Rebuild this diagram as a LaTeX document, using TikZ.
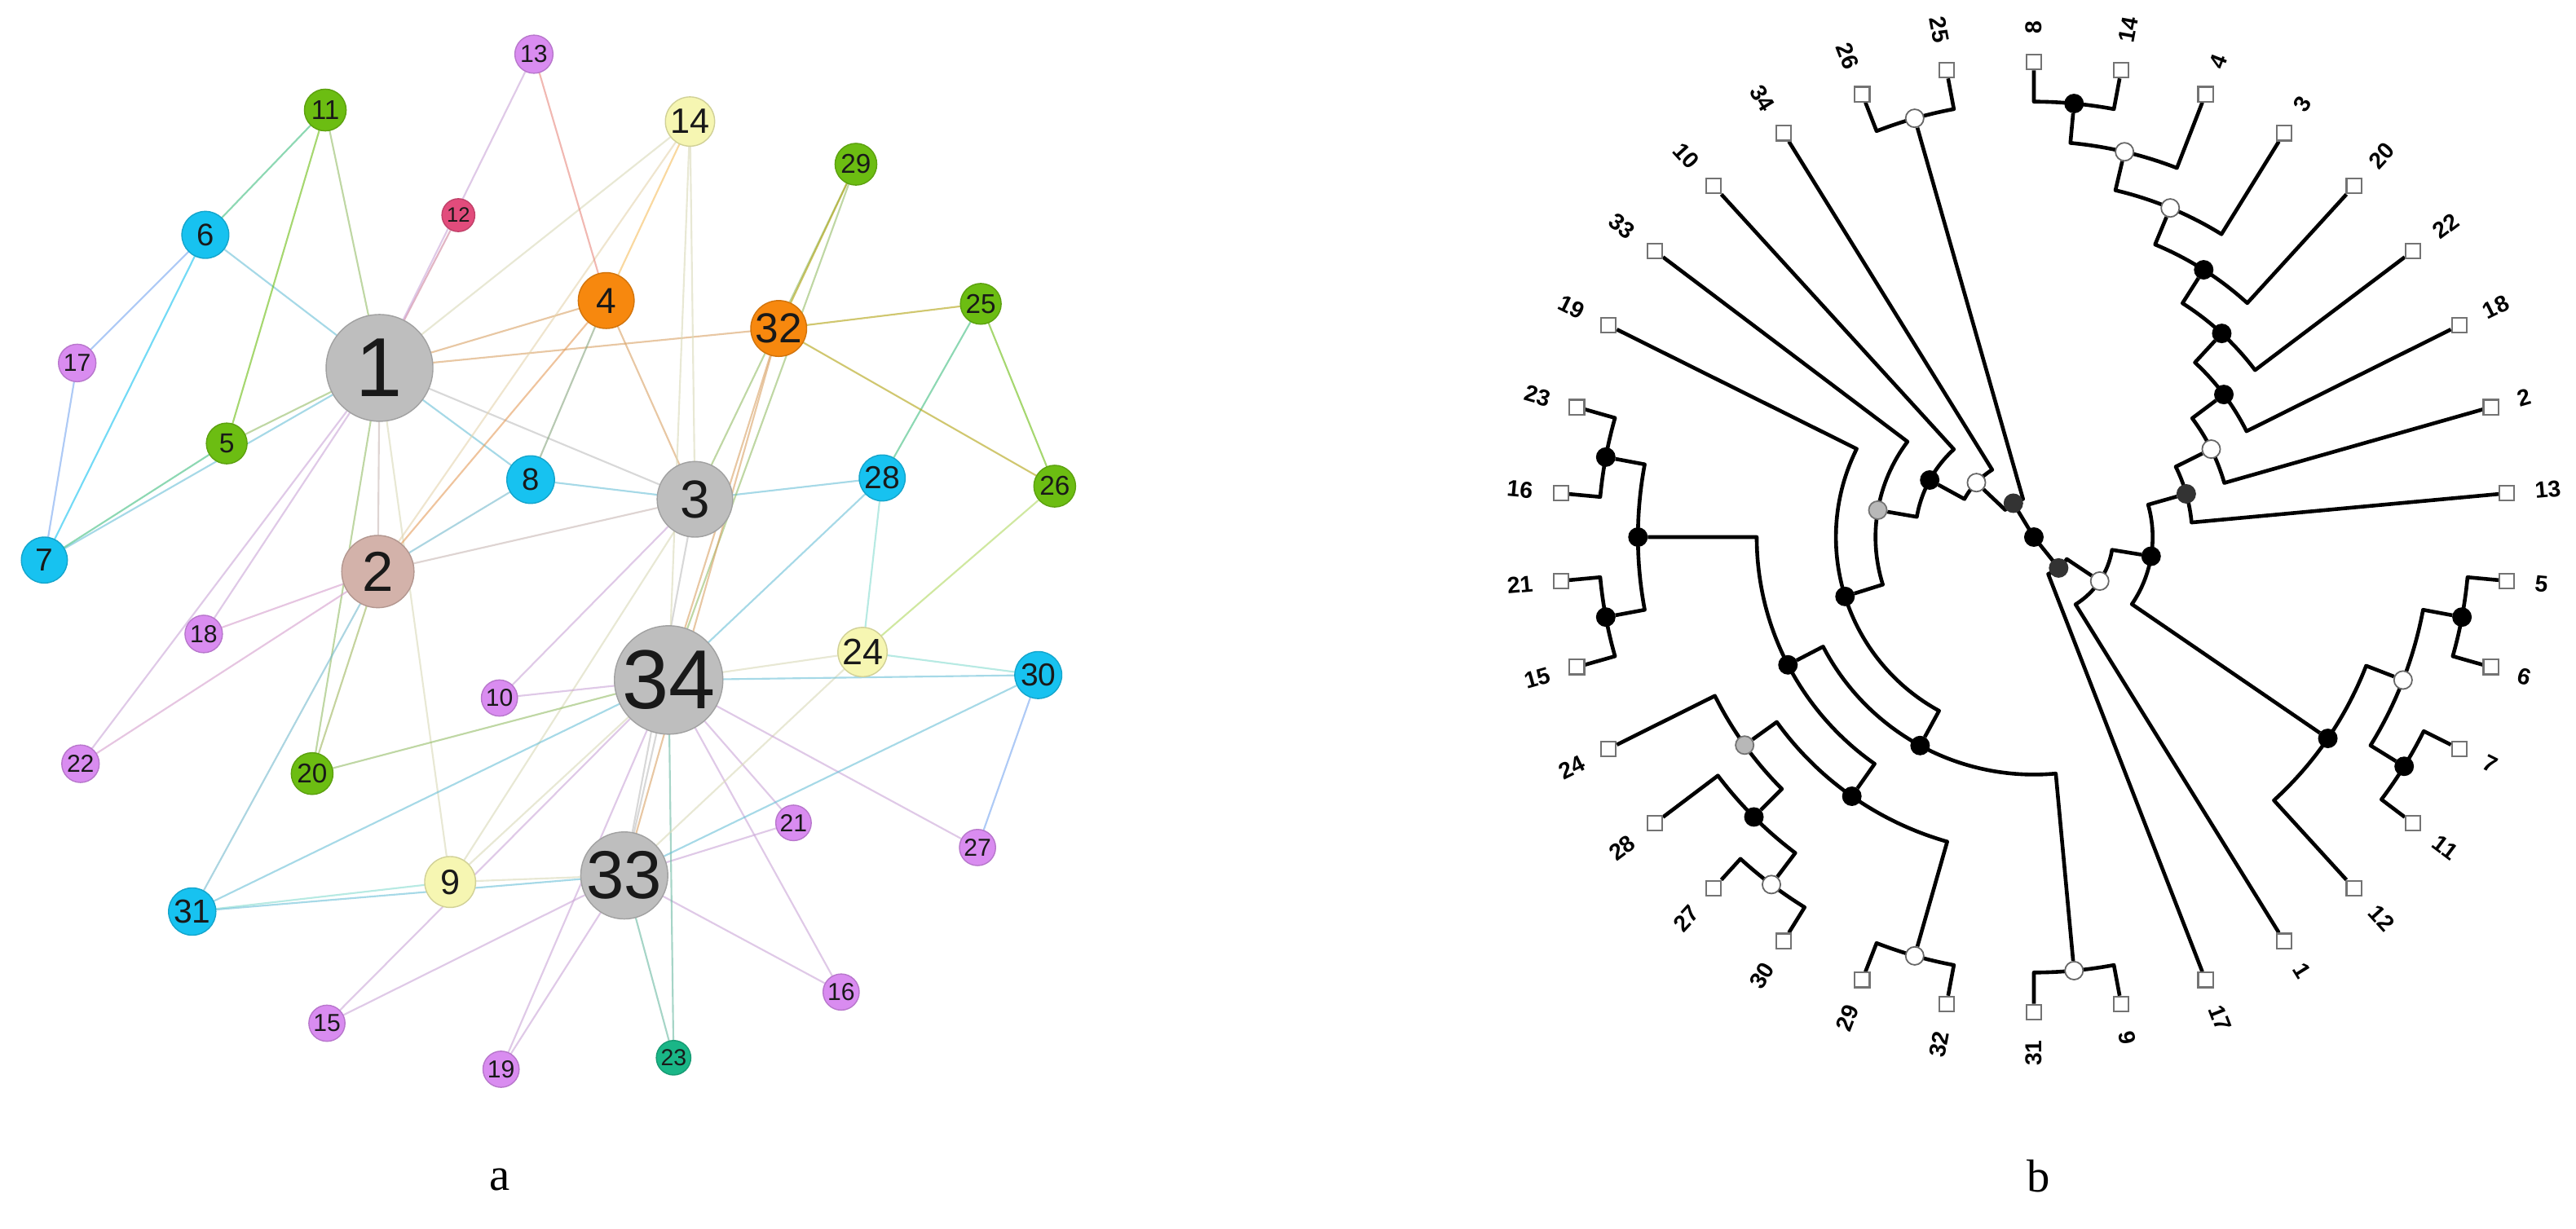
\documentclass[tikz,border=0pt]{standalone}
\usepackage{fontspec}
\setmainfont{Liberation Serif}
\newfontfamily\gfont{Liberation Sans}
\pgfdeclarelayer{paper}
\pgfdeclarelayer{edges}
\pgfsetlayers{paper,edges,main}
\definecolor{ngray}{HTML}{BEBEBE}
\definecolor{nrose}{HTML}{D3B2AA}
\definecolor{norange}{HTML}{F7880E}
\definecolor{ngreen}{HTML}{6CBD12}
\definecolor{nblue}{HTML}{17C2F0}
\definecolor{nyellow}{HTML}{F6F6B2}
\definecolor{npurple}{HTML}{D98CF0}
\definecolor{npink}{HTML}{E24C7C}
\definecolor{nteal}{HTML}{1AB687}
\colorlet{c1}{ngray}\colorlet{c2}{nrose}\colorlet{c3}{ngray}\colorlet{c4}{norange}
\colorlet{c5}{ngreen}\colorlet{c6}{nblue}\colorlet{c7}{nblue}\colorlet{c8}{nblue}
\colorlet{c9}{nyellow}\colorlet{c10}{npurple}\colorlet{c11}{ngreen}\colorlet{c12}{npink}
\colorlet{c13}{npurple}\colorlet{c14}{nyellow}\colorlet{c15}{npurple}\colorlet{c16}{npurple}
\colorlet{c17}{npurple}\colorlet{c18}{npurple}\colorlet{c19}{npurple}\colorlet{c20}{ngreen}
\colorlet{c21}{npurple}\colorlet{c22}{npurple}\colorlet{c23}{nteal}\colorlet{c24}{nyellow}
\colorlet{c25}{ngreen}\colorlet{c26}{ngreen}\colorlet{c27}{npurple}\colorlet{c28}{nblue}
\colorlet{c29}{ngreen}\colorlet{c30}{nblue}\colorlet{c31}{nblue}\colorlet{c32}{norange}
\colorlet{c33}{ngray}\colorlet{c34}{ngray}
\newcommand\zb[1]{\makebox[0pt]{#1}}
\newcommand\tedge[5]{\draw[br] (#1.center) arc[start angle=#2, end angle=#3, radius=#4] -- (#5);}
\begin{document}
\begin{tikzpicture}[x=0.2mm, y=0.2mm,
  gn/.style n args={3}{circle, inner sep=0pt, fill=#1, draw=#1!85!black, line width=0.4pt,
     minimum size=#2*0.4mm, font=\gfont\fontsize{#3}{#3}\selectfont, text=black!90},
  gedge/.style={line width=0.6pt, opacity=0.6},
  br/.style={line width=1.3pt, black, line join=round},
  leaf/.style={rectangle, draw=black!55, fill=white, line width=0.6pt, minimum size=1.8mm, inner sep=0pt},
  inode/.style={circle, minimum size=2.2mm, inner sep=0pt, line width=0.5pt},
  iblack/.style={inode, fill=black, draw=black},
  iwhite/.style={inode, fill=white, draw=black!60},
  igray/.style={inode, fill=black!28, draw=black!55},
  idark/.style={inode, fill=black!80, draw=black!80},
  lbl/.style={font=\gfont\bfseries\fontsize{8}{8}\selectfont, inner sep=0pt},
  captext/.style={font=\fontsize{16}{16}\selectfont, inner sep=0pt}]
\useasboundingbox (0,0) rectangle (1568,748);
\begin{pgfonlayer}{paper}
\fill[white] (0,0) rectangle (1568,748);
\end{pgfonlayer}

% ---------------- panel a: network ----------------
\node[gn={c1}{32.5}{29}] (n1) at (231,524) {\zb{1}};
\node[gn={c2}{22}{19.5}] (n2) at (230,400) {\zb{2}};
\node[gn={c3}{23}{18.5}] (n3) at (423,444) {\zb{3}};
\node[gn={c4}{17}{12.5}] (n4) at (369,565) {\zb{4}};
\node[gn={c5}{12.4}{9.5}] (n5) at (138,478) {\zb{5}};
\node[gn={c6}{14.3}{10.8}] (n6) at (125,605) {\zb{6}};
\node[gn={c7}{14}{11}] (n7) at (27,407) {\zb{7}};
\node[gn={c8}{14.5}{10.8}] (n8) at (323,456) {\zb{8}};
\node[gn={c9}{15.5}{12.2}] (n9) at (274,211) {\zb{9}};
\node[gn={c10}{11}{8.5}] (n10) at (304,323) {\zb{10}};
\node[gn={c11}{12.7}{9.4}] (n11) at (198,681) {\zb{11}};
\node[gn={c12}{10}{7.2}] (n12) at (279,617) {\zb{12}};
\node[gn={c13}{11.6}{8.5}] (n13) at (325,715) {\zb{13}};
\node[gn={c14}{15}{12.2}] (n14) at (420,674) {\zb{14}};
\node[gn={c15}{11}{8.5}] (n15) at (199,125) {\zb{15}};
\node[gn={c16}{11}{8.5}] (n16) at (512,144) {\zb{16}};
\node[gn={c17}{11.4}{8.5}] (n17) at (47,527) {\zb{17}};
\node[gn={c18}{11.4}{8.5}] (n18) at (124,362) {\zb{18}};
\node[gn={c19}{11}{8.5}] (n19) at (305,97) {\zb{19}};
\node[gn={c20}{12.7}{9.4}] (n20) at (190,277) {\zb{20}};
\node[gn={c21}{10.8}{8.5}] (n21) at (483,247) {\zb{21}};
\node[gn={c22}{11.4}{8.5}] (n22) at (49,283) {\zb{22}};
\node[gn={c23}{10.5}{8}] (n23) at (410,104) {\zb{23}};
\node[gn={c24}{15}{12.7}] (n24) at (525,351) {\zb{24}};
\node[gn={c25}{12.4}{9.4}] (n25) at (597,563) {\zb{25}};
\node[gn={c26}{12.7}{9.4}] (n26) at (642,452) {\zb{26}};
\node[gn={c27}{11}{8.5}] (n27) at (595,232) {\zb{27}};
\node[gn={c28}{14}{11}] (n28) at (537,457) {\zb{28}};
\node[gn={c29}{12.7}{9.4}] (n29) at (521,648) {\zb{29}};
\node[gn={c30}{14.3}{11}] (n30) at (632,337) {\zb{30}};
\node[gn={c31}{14.4}{11.5}] (n31) at (117,193) {\zb{31}};
\node[gn={c32}{17}{14.5}] (n32) at (474,548) {\zb{32}};
\node[gn={c33}{26.5}{23.5}] (n33) at (380,215) {\zb{33}};
\node[gn={c34}{33}{29}] (n34) at (407,334) {\zb{34}};

\begin{pgfonlayer}{edges}
\foreach \a/\b in {1/2,1/3,1/4,1/5,1/6,1/7,1/8,1/9,1/11,1/12,1/13,1/14,1/18,1/20,1/22,1/32,
  2/3,2/4,2/8,2/14,2/18,2/20,2/22,2/31,
  3/4,3/8,3/9,3/10,3/14,3/28,3/29,3/33,
  4/8,4/13,4/14,5/7,5/11,6/7,6/11,6/17,7/17,
  9/31,9/33,9/34,10/34,14/34,15/33,15/34,16/33,16/34,19/33,19/34,20/34,21/33,21/34,23/33,23/34,
  24/26,24/28,24/30,24/33,24/34,25/26,25/28,25/32,26/32,27/30,27/34,28/34,29/32,29/34,
  30/33,30/34,31/33,31/34,32/33,32/34,33/34}
  \draw[gedge, draw=c\a!50!c\b] (n\a.center) -- (n\b.center);
\end{pgfonlayer}

\node[captext] (capa) at (304,30) {a};

% ---------------- panel b: circular dendrogram ----------------
\begin{scope}[shift={(1238,421)}]
\node[iblack] (root) at (0,0) {};
\node[idark] (R) at (121.2:24.1) {};
\node[idark] (Q) at (308.708:24.1) {};
\node[iwhite] (T) at (136.52:48.2) {};
\node[iwhite] (N) at (326.24:48.2) {};
\node[iblack] (U) at (151.275:72.3) {};
\node[iblack] (I) at (350.715:72.3) {};
\node[igray] (V) at (170.198:96.4) {};
\node[idark] (H) at (375.841:96.4) {};
\node[iblack] (W) at (197.454:120.5) {};
\node[iwhite] (G) at (386.388:120.5) {};
\node[iblack] (X) at (241.379:144.6) {};
\node[iblack] (F) at (396.893:144.6) {};
\node[iblack] (Y) at (207.463:168.7) {};
\node[iblack] (E) at (407.316:168.7) {};
\node[iblack] (Zp) at (234.926:192.8) {};
\node[iblack] (D) at (417.574:192.8) {};
\node[igray] (Al) at (215.735:216.9) {};
\node[iwhite] (C) at (427.5:216.9) {};
\node[iblack] (J) at (325.588:216.9) {};
\node[iblack] (Be) at (225:241) {};
\node[iwhite] (B) at (436.765:241) {};
\node[iwhite] (K) at (338.824:241) {};
\node[iblack] (Q4) at (180:241) {};
\node[iwhite] (Ga) at (232.941:265.1) {};
\node[iwhite] (P3) at (254.118:265.1) {};
\node[iwhite] (P4) at (275.294:265.1) {};
\node[iwhite] (S) at (105.882:265.1) {};
\node[iblack] (A) at (444.706:265.1) {};
\node[iblack] (Lq) at (349.412:265.1) {};
\node[iblack] (Mq) at (328.235:265.1) {};
\node[iblack] (P1) at (169.412:265.1) {};
\node[iblack] (P2) at (190.588:265.1) {};

\foreach \nm/\i in {8/0,25/1,26/2,34/3,10/4,33/5,19/6,23/7,16/8,21/9,15/10,24/11,28/12,27/13,
  30/14,29/15,32/16,31/17,9/18,17/19,1/20,12/21,11/22,7/23,6/24,5/25,13/26,2/27,18/28,
  22/29,20/30,3/31,4/32,14/33}{
  \pgfmathsetmacro\ang{90+\i*360/34}
  \node[leaf] (L\nm) at (\ang:289.2) {};
  \pgfmathtruncatemacro\lft{(\ang>90.1 && \ang<270.1) ? 1 : 0}
  \ifnum\lft=1
    \node[lbl, anchor=east, rotate=\ang-180] (T\nm) at (\ang:306) {\nm};
  \else
    \node[lbl, anchor=west, rotate=\ang] (T\nm) at (\ang:306) {\nm};
  \fi
}

\begin{pgfonlayer}{edges}
\draw[br] (root.center) -- (R.center);
\draw[br] (root.center) -- (Q.center);
\tedge{R}{121.2}{105.882}{24.1}{S}
\tedge{R}{121.2}{136.52}{24.1}{T}
\tedge{T}{136.52}{121.765}{48.2}{L34}
\tedge{T}{136.52}{151.275}{48.2}{U}
\tedge{U}{151.275}{132.353}{72.3}{L10}
\tedge{U}{151.275}{170.198}{72.3}{V}
\tedge{V}{170.198}{142.941}{96.4}{L33}
\tedge{V}{170.198}{197.454}{96.4}{W}
\tedge{W}{197.454}{153.529}{120.5}{L19}
\tedge{W}{197.454}{241.379}{120.5}{X}
\tedge{X}{241.379}{207.463}{144.6}{Y}
\tedge{X}{241.379}{275.294}{144.6}{P4}
\tedge{Y}{207.463}{180}{168.7}{Q4}
\tedge{Y}{207.463}{234.926}{168.7}{Zp}
\tedge{Zp}{234.926}{215.735}{192.8}{Al}
\tedge{Zp}{234.926}{254.118}{192.8}{P3}
\tedge{Al}{215.735}{206.471}{216.9}{L24}
\tedge{Al}{215.735}{225}{216.9}{Be}
\tedge{Be}{225}{217.059}{241}{L28}
\tedge{Be}{225}{232.941}{241}{Ga}
\tedge{Ga}{232.941}{227.647}{265.1}{L27}
\tedge{Ga}{232.941}{238.235}{265.1}{L30}
\tedge{P3}{254.118}{248.824}{265.1}{L29}
\tedge{P3}{254.118}{259.412}{265.1}{L32}
\tedge{P4}{275.294}{270}{265.1}{L31}
\tedge{P4}{275.294}{280.588}{265.1}{L9}
\tedge{Q4}{180}{169.412}{241}{P1}
\tedge{Q4}{180}{190.588}{241}{P2}
\tedge{P1}{169.412}{164.118}{265.1}{L23}
\tedge{P1}{169.412}{174.706}{265.1}{L16}
\tedge{P2}{190.588}{185.294}{265.1}{L21}
\tedge{P2}{190.588}{195.882}{265.1}{L15}
\tedge{S}{105.882}{100.588}{265.1}{L25}
\tedge{S}{105.882}{111.176}{265.1}{L26}
\tedge{Q}{308.708}{326.24}{24.1}{N}
\tedge{Q}{308.708}{291.176}{24.1}{L17}
\tedge{N}{326.24}{350.715}{48.2}{I}
\tedge{N}{326.24}{301.765}{48.2}{L1}
\tedge{I}{350.715}{375.841}{72.3}{H}
\tedge{I}{350.715}{325.588}{72.3}{J}
\tedge{H}{375.841}{386.388}{96.4}{G}
\tedge{H}{375.841}{365.294}{96.4}{L13}
\tedge{G}{386.388}{396.893}{120.5}{F}
\tedge{G}{386.388}{375.882}{120.5}{L2}
\tedge{F}{396.893}{407.316}{144.6}{E}
\tedge{F}{396.893}{386.471}{144.6}{L18}
\tedge{E}{407.316}{417.574}{168.7}{D}
\tedge{E}{407.316}{397.059}{168.7}{L22}
\tedge{D}{417.574}{427.5}{192.8}{C}
\tedge{D}{417.574}{407.647}{192.8}{L20}
\tedge{C}{427.5}{436.765}{216.9}{B}
\tedge{C}{427.5}{418.235}{216.9}{L3}
\tedge{B}{436.765}{444.706}{241}{A}
\tedge{B}{436.765}{428.824}{241}{L4}
\tedge{A}{444.706}{450}{265.1}{L8}
\tedge{A}{444.706}{439.412}{265.1}{L14}
\tedge{J}{325.588}{338.824}{216.9}{K}
\tedge{J}{325.588}{312.353}{216.9}{L12}
\tedge{K}{338.824}{349.412}{241}{Lq}
\tedge{K}{338.824}{328.235}{241}{Mq}
\tedge{Lq}{349.412}{354.706}{265.1}{L5}
\tedge{Lq}{349.412}{344.118}{265.1}{L6}
\tedge{Mq}{328.235}{333.529}{265.1}{L7}
\tedge{Mq}{328.235}{322.941}{265.1}{L11}
\end{pgfonlayer}
\end{scope}

\node[captext] (capb) at (1241,32) {b};
\end{tikzpicture}
\end{document}
